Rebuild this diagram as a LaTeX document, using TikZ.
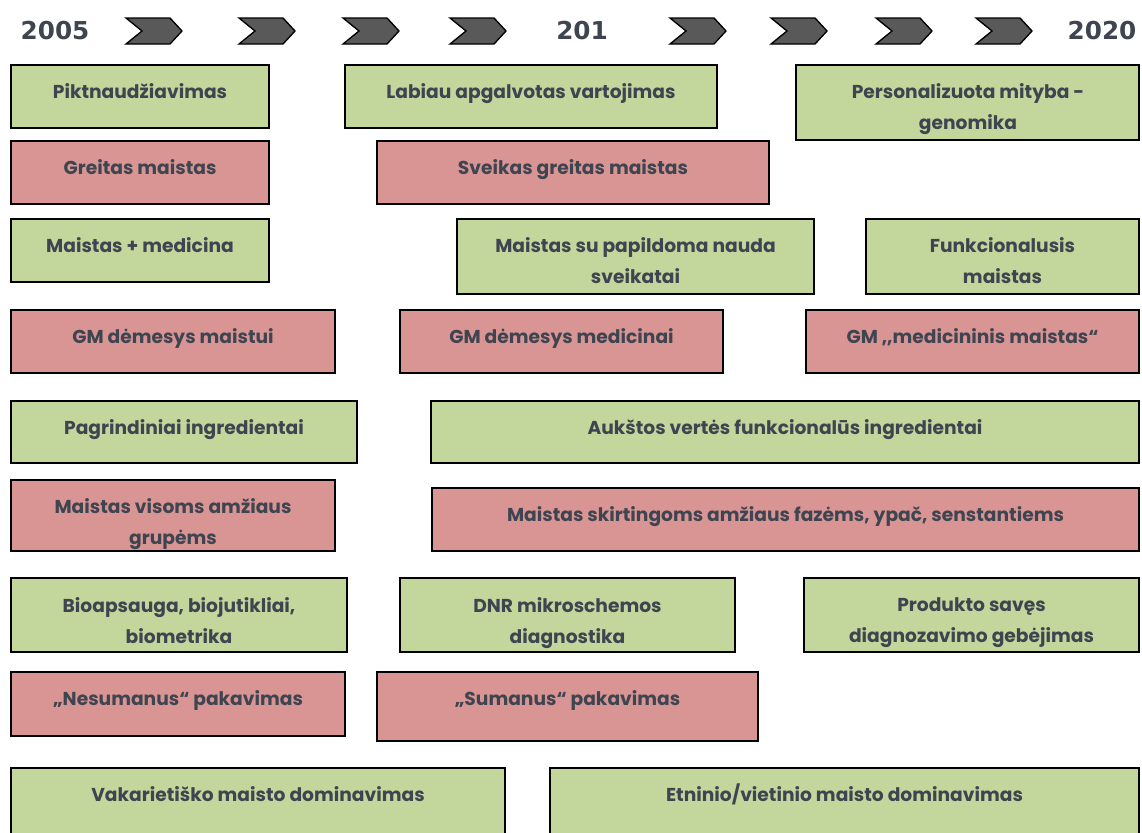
\documentclass[tikz,border=0pt]{standalone}
\usepackage{fontspec}
\setmainfont{Poppins}
\newfontfamily\yearfont{DejaVu Sans}
\definecolor{boxgreen}{RGB}{195,214,155}
\definecolor{boxred}{RGB}{217,149,148}
\definecolor{txtgray}{RGB}{62,68,80}
\definecolor{chevgray}{RGB}{89,89,89}
\tikzset{every picture/.style={line width=0.75pt}}
\tikzset{
  gbox/.style={draw=black, fill=boxgreen, line width=1.6pt},
  rbox/.style={draw=black, fill=boxred, line width=1.6pt},
  lbl/.style={anchor=north, inner sep=0pt, align=center, text=txtgray,
    font=\fontsize{14}{23.25}\selectfont\bfseries, execute at begin node=\strut},
  yr/.style={inner sep=0pt, text=txtgray, font=\yearfont\fontsize{18.5}{20}\selectfont\bfseries},
  chev/.style={draw=black, fill=chevgray, line width=1pt, line join=miter}
}

\begin{document}
\begin{tikzpicture}[x=0.75pt,y=0.75pt,yscale=-1,xscale=1]
\useasboundingbox (0,0) rectangle (1142,832);
\clip (0,0) rectangle (1142,832);

%Chevrons
\draw [chev] (126,18) -- (170,18) -- (182,31) -- (170,44) -- (126,44) -- (142,31) -- cycle ;
\draw [chev] (239,18) -- (283,18) -- (295,31) -- (283,44) -- (239,44) -- (255,31) -- cycle ;
\draw [chev] (343,18) -- (387,18) -- (399,31) -- (387,44) -- (343,44) -- (359,31) -- cycle ;
\draw [chev] (450,18) -- (494,18) -- (506,31) -- (494,44) -- (450,44) -- (466,31) -- cycle ;
\draw [chev] (670,18) -- (714,18) -- (726,31) -- (714,44) -- (670,44) -- (686,31) -- cycle ;
\draw [chev] (771,18) -- (815,18) -- (827,31) -- (815,44) -- (771,44) -- (787,31) -- cycle ;
\draw [chev] (876,18) -- (920,18) -- (932,31) -- (920,44) -- (876,44) -- (892,31) -- cycle ;
\draw [chev] (976,18) -- (1020,18) -- (1032,31) -- (1020,44) -- (976,44) -- (992,31) -- cycle ;

% Year Nodes
\draw (55,31) node (y2005) [yr] {2005};
\draw (582,31) node (y201) [yr] {201};
\draw (1102,31) node (y2020) [yr] {2020};

%Shape: Rectangle
\draw [gbox] (11,65) rectangle (269,128) ;
\draw [gbox] (345,65) rectangle (717,128) ;
\draw [gbox] (796,65) rectangle (1139,140) ;
\draw [rbox] (11,141) rectangle (269,204) ;
\draw [rbox] (377,141) rectangle (769,204) ;
\draw [gbox] (11,219) rectangle (269,282) ;
\draw [gbox] (457,219) rectangle (814,294) ;
\draw [gbox] (866,219) rectangle (1139,294) ;
\draw [rbox] (11,310) rectangle (335,373) ;
\draw [rbox] (400,310) rectangle (723,373) ;
\draw [rbox] (806,310) rectangle (1139,373) ;
\draw [gbox] (11,401) rectangle (357,463) ;
\draw [gbox] (431,401) rectangle (1139,463) ;
\draw [rbox] (11,480) rectangle (335,551) ;
\draw [rbox] (432,488) rectangle (1139,551) ;
\draw [gbox] (11,578) rectangle (347,652) ;
\draw [gbox] (400,578) rectangle (735,652) ;
\draw [gbox] (804,578) rectangle (1139,652) ;
\draw [rbox] (11,672) rectangle (345,736) ;
\draw [rbox] (377,672) rectangle (758,741) ;
\draw [gbox] (11,768) rectangle (505,850) ;
\draw [gbox] (550,768) rectangle (1139,850) ;

% Text Node
\draw (140,76.5) node (pikt) [lbl] {Piktnaudžiavimas};
\draw (531,76.5) node (labiau) [lbl] {Labiau apgalvotas vartojimas};
\draw (968,83.5) node (person) [lbl] {Personalizuota mityba -\\genomika};
\draw (140,152.5) node (greitas) [lbl] {Greitas maistas};
\draw (573,152.5) node (sveikas) [lbl] {Sveikas greitas maistas};
\draw (140,230.5) node (maistmed) [lbl] {Maistas + medicina};
\draw (635.5,237.5) node (papild) [lbl] {Maistas su papildoma nauda\\sveikatai};
\draw (1002.5,237.5) node (funkc) [lbl] {Funkcionalusis\\maistas};
\draw (173,321.5) node (gmmaist) [lbl] {GM dėmesys maistui};
\draw (561.5,321.5) node (gmmed) [lbl] {GM dėmesys medicinai};
\draw (972.5,321.5) node (gmmedmaist) [lbl] {GM {,}{,}medicininis maistas“};
\draw (184,412.5) node (pagr) [lbl] {Pagrindiniai ingredientai};
\draw (785,412.5) node (aukst) [lbl] {Aukštos vertės funkcionalūs ingredientai};
\begin{scope}
\clip (12,481) rectangle (334,550);
\draw (173,498.5) node (visoms) [lbl] {Maistas visoms amžiaus\\grupėms};
\end{scope}
\draw (785.5,499.5) node (skirt) [lbl] {Maistas skirtingoms amžiaus fazėms, ypač, senstantiems};
\draw (179,597) node (bio) [lbl] {Bioapsauga, biojutikliai,\\biometrika};
\begin{scope}
\clip (401,579) rectangle (734,651);
\draw (567.5,597) node (dnr) [lbl] {DNR mikroschemos\\diagnostika};
\end{scope}
\begin{scope}
\clip (805,579) rectangle (1138,651);
\draw (971.5,597) node (prod) [lbl] {Produkto savęs\\diagnozavimo gebėjimas};
\end{scope}
\draw (178,683.5) node (nesum) [lbl] {„Nesumanus“ pakavimas};
\draw (567.5,683.5) node (sum) [lbl] {„Sumanus“ pakavimas};
\draw (258,779.5) node (vakar) [lbl] {Vakarietiško maisto dominavimas};
\draw (844.5,779.5) node (etn) [lbl] {Etninio/vietinio maisto dominavimas};

\end{tikzpicture}
\end{document}
